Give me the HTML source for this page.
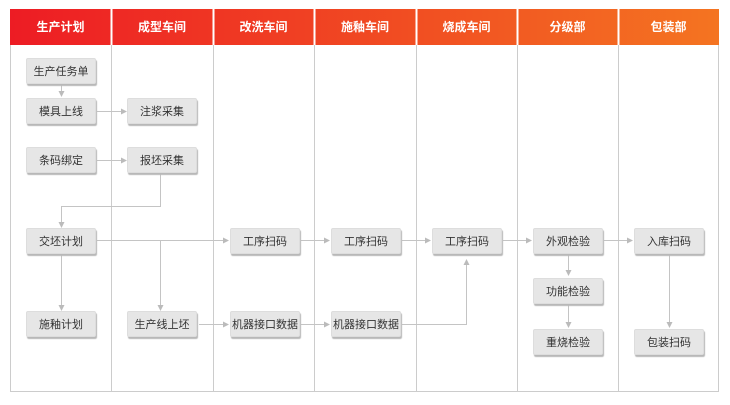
<!DOCTYPE html>
<html><head><meta charset="utf-8"><style>
body{margin:0;width:730px;height:405px;background:#fff;position:relative;overflow:hidden;font-family:"Liberation Sans","Noto Sans CJK SC",sans-serif}
.hdr{position:absolute;top:9px;height:36px;background:linear-gradient(90deg,#ed1c24,#f47421);left:10px;width:709px}
.h{position:absolute;top:9px;height:36px;line-height:36px;color:#fff;font-weight:bold;font-size:12px;text-align:center}
.b{position:absolute;width:70px;height:26px;line-height:26px;background:#e6e6e6;border:1px solid #ddd;box-sizing:border-box;box-shadow:1px 2px 1px #b8b8b8;font-size:11px;color:#333;text-align:center;border-radius:2px}
svg{position:absolute;left:0;top:0}
</style></head><body>
<div class="hdr"></div>
<svg width="730" height="405">
<defs><marker id="a" markerWidth="6" markerHeight="6" refX="5" refY="3" orient="auto" markerUnits="userSpaceOnUse"><path d="M0,0 L6,3 L0,6z" fill="#bbb"/></marker></defs>
<g stroke="#ccc" stroke-width="1" fill="none">
<path d="M10.5 45 V391.5 H718.5 V45"/>
<path d="M111.5 45V391M213.5 45V391M314.5 45V391M416.5 45V391M517.5 45V391M618.5 45V391"/>
</g>
<g stroke="#fff" stroke-width="2"><path d="M111.5 9V45M213.5 9V45M314.5 9V45M416.5 9V45M517.5 9V45M618.5 9V45"/></g>
<g stroke="#c4c4c4" stroke-width="1" fill="none" marker-end="url(#a)">
<path d="M61.5 84V96"/>
<path d="M97 111.5H126"/>
<path d="M97 160.5H126"/>
<path d="M160.5 174V206.5H61.5V227"/>
<path d="M97 240.5H228"/>
<path d="M160.5 240.5V310"/>
<path d="M61.5 255V310"/>
<path d="M199 324.5H228"/>
<path d="M301 324.5H329"/>
<path d="M402 324.5H466.5V260"/>
<path d="M301 240.5H329"/>
<path d="M402 240.5H430"/>
<path d="M503 240.5H531"/>
<path d="M604 240.5H632"/>
<path d="M568.5 255V275"/>
<path d="M568.5 305V327"/>
<path d="M669.5 255V327"/>
</g>
</svg>
<div class="h" style="left:10px;width:101px">生产计划</div>
<div class="h" style="left:111px;width:102px">成型车间</div>
<div class="h" style="left:213px;width:101px">改洗车间</div>
<div class="h" style="left:314px;width:102px">施釉车间</div>
<div class="h" style="left:416px;width:101px">烧成车间</div>
<div class="h" style="left:517px;width:101px">分级部</div>
<div class="h" style="left:618px;width:101px">包装部</div>
<div class="b" style="left:26px;top:58px">生产任务单</div>
<div class="b" style="left:26px;top:98px">模具上线</div>
<div class="b" style="left:127px;top:98px">注浆采集</div>
<div class="b" style="left:26px;top:147px">条码绑定</div>
<div class="b" style="left:127px;top:147px">报坯采集</div>
<div class="b" style="left:26px;top:228px">交坯计划</div>
<div class="b" style="left:26px;top:311px">施釉计划</div>
<div class="b" style="left:127px;top:311px">生产线上坯</div>
<div class="b" style="left:230px;top:228px">工序扫码</div>
<div class="b" style="left:230px;top:311px">机器接口数据</div>
<div class="b" style="left:331px;top:228px">工序扫码</div>
<div class="b" style="left:331px;top:311px">机器接口数据</div>
<div class="b" style="left:432px;top:228px">工序扫码</div>
<div class="b" style="left:533px;top:228px">外观检验</div>
<div class="b" style="left:533px;top:278px">功能检验</div>
<div class="b" style="left:533px;top:329px">重烧检验</div>
<div class="b" style="left:634px;top:228px">入库扫码</div>
<div class="b" style="left:634px;top:329px">包装扫码</div>
</body></html>
